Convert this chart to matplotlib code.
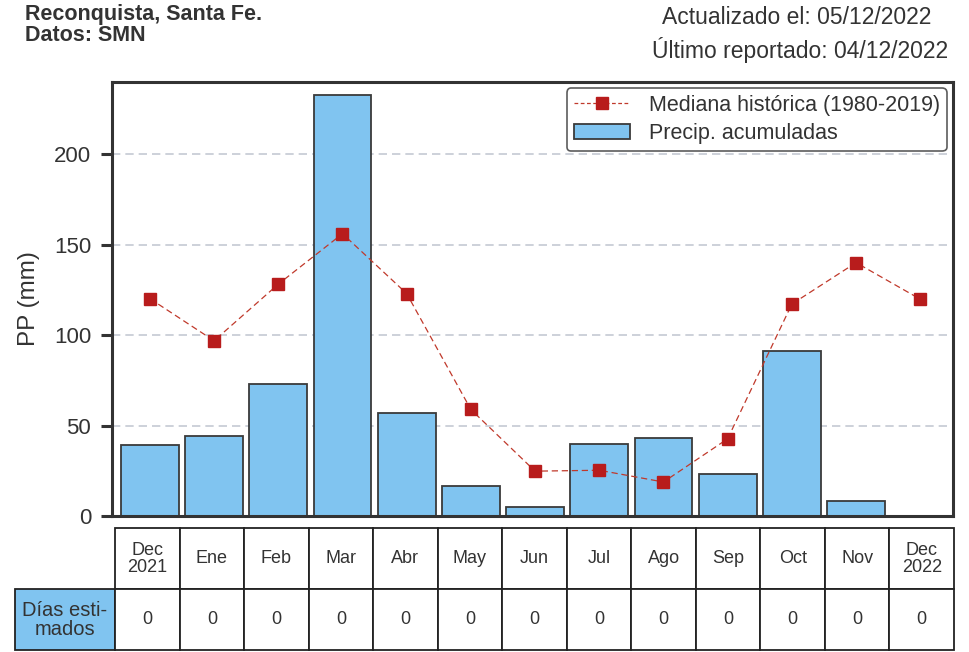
import numpy as np
import matplotlib
matplotlib.use("Agg")
import matplotlib.pyplot as plt
from matplotlib.patches import Patch
from matplotlib.lines import Line2D

plt.rcParams['font.family'] = ['Liberation Sans', 'DejaVu Sans']

# data
meses = ['Dec\n2021', 'Ene', 'Feb', 'Mar', 'Abr', 'May', 'Jun', 'Jul',
         'Ago', 'Sep', 'Oct', 'Nov', 'Dec\n2022']
precip = [39, 44, 73, 233, 57, 16.5, 5, 40, 43, 23, 91, 8.1, 0]
mediana = [120.2, 96.9, 128.2, 156.1, 123, 58.9, 24.8, 25.3, 18.8, 42.7,
           117.2, 140.1, 119.9]
dias_estimados = [0] * 13
yticks = [0, 50, 100, 150, 200]

txt = '#333333'
fig = plt.figure(figsize=(9.7, 6.52), dpi=100)
ax = fig.add_axes([112/970, 1 - 516/652, 841/970, 434/652])

x = np.arange(len(meses))
ax.bar(x, precip, width=0.9, color='#80c4f0', edgecolor='#3a3a3a',
       linewidth=1.3, zorder=2)
ax.plot(x, mediana, color='#c0392b', linestyle=(0, (5, 3)), linewidth=0.9,
        marker='s', markersize=9, markerfacecolor='#b81c1c',
        markeredgecolor='#b81c1c', zorder=3)

ax.set_xlim(-0.59, 12.51)
ax.set_ylim(0, 240)
ax.set_yticks(yticks)
ax.set_yticklabels([str(v) for v in yticks], fontsize=16, color=txt)
ax.set_xticks([])
ax.tick_params(axis='y', direction='out', length=8, width=2.2, pad=7,
               color='#333333')
ax.set_ylabel('PP (mm)', fontsize=17.5, color=txt, labelpad=10)
for v in yticks[1:]:
    ax.axhline(v, color='#c5cad3', linestyle=(0, (5, 3)), linewidth=1.2, zorder=1)
for s in ax.spines.values():
    s.set_color('#333333')
    s.set_linewidth(2.2)

handles = [Line2D([], [], color='#c0392b', linestyle=(0, (3, 2)), linewidth=0.9,
                  marker='s', markersize=9, markerfacecolor='#b81c1c',
                  markeredgecolor='#b81c1c'),
           Patch(facecolor='#80c4f0', edgecolor='#3a3a3a', linewidth=1.3)]
leg = ax.legend(handles, ['Mediana histórica (1980-2019)', 'Precip. acumuladas'],
                loc='upper right', fontsize=15.5, frameon=True, fancybox=True,
                borderaxespad=0.3, handlelength=2.6, handletextpad=0.9,
                labelspacing=0.35, borderpad=0.3)
leg.get_frame().set_edgecolor('#333333')
leg.get_frame().set_linewidth(1.2)
for t in leg.get_texts():
    t.set_color(txt)

# tabla
cells = [[''] + meses, ['Días esti-\nmados'] + [str(d) for d in dias_estimados]]
tab = ax.table(cellText=cells, cellLoc='center',
               bbox=[(15-112)/841, -(650-516)/434, (954-15)/841, (650-528.3)/434],
               colWidths=[100] + [64.5]*13)
tab.auto_set_font_size(False)
tab.set_fontsize(13)
for (r, c), cell in tab.get_celld().items():
    cell.set_edgecolor('#222222')
    cell.set_linewidth(1.3)
    t = cell.get_text()
    t.set_color(txt)
    t.set_multialignment('center')
    t.set_linespacing(1.0)
    if r == 0 and c == 0:
        cell.visible_edges = ''
    if r == 1 and c == 0:
        cell.set_facecolor('#80c4f0')
        t.set_fontsize(14.5)

fig.text(25/970, 1 - 4/652, 'Reconquista, Santa Fe.\nDatos: SMN', ha='left',
         va='top', fontsize=15.5, fontweight='bold', color=txt, linespacing=0.98)
fig.text(797/970, 1 - 17/652, 'Actualizado el: 05/12/2022', ha='center',
         va='center', fontsize=16.5, color=txt)
fig.text(800/970, 1 - 50/652, 'Último reportado: 04/12/2022', ha='center',
         va='center', fontsize=16.5, color=txt)

fig.savefig('out.png', dpi=100)
